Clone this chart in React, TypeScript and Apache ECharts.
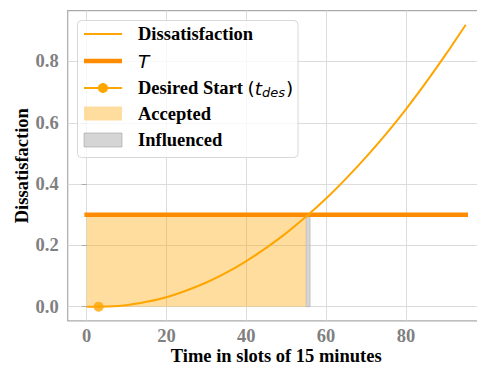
import React, { useEffect, useRef } from "react";
import * as echarts from "echarts";

// ---- data ----
const slots = [0, 3, 5, 10, 15, 20, 25, 30, 35, 40, 45, 50, 55, 60, 65, 70, 75, 80, 85, 90, 95];
const dissatisfaction = [0, 0, 0.0004, 0.005, 0.016, 0.031, 0.053, 0.079, 0.111, 0.149, 0.192, 0.24, 0.294, 0.353, 0.418, 0.488, 0.563, 0.644, 0.731, 0.823, 0.92];
const thresholdT = 0.3;
const thresholdSpan = [0, 95];
const desiredStart = [3, 0];
const acceptedRange = [0, 55];
const influencedRange = [55, 56];
const xTicks = [0, 20, 40, 60, 80];
const yTicks = [0, 0.2, 0.4, 0.6, 0.8];
const legendLabels = ["Dissatisfaction", "T", "Desired Start", "Accepted", "Influenced"];

const SERIF = "'Liberation Serif', 'Times New Roman', serif";
const SANS = "'DejaVu Sans', sans-serif";
const FS = 18.5;
const ORANGE = "#FFA500";
const DARKORANGE = "#FF8C00";
const ACCEPT_FILL = "rgba(255,165,0,0.38)";
const INFL_FILL = "rgba(190,190,190,0.65)";

export default function App() {
  const ref = useRef<HTMLDivElement>(null);
  useEffect(() => {
    if (!ref.current) return;
    const chart = echarts.init(ref.current, undefined, { renderer: "svg" });
    const lx = 84, lw = 38, tx = 138;
    const rows = [34, 61, 88, 113.5, 140];
    const textStyle = { fontFamily: SERIF, fontWeight: "bold", fontSize: FS, fill: "#000" };
    const option: any = {
      animation: false,
      grid: { left: 67.7, right: -7.7, top: 10.6, bottom: 46.2, show: true, borderColor: "#aaaaaa", borderWidth: 1.2, containLabel: false, outerBoundsMode: "none" },
      xAxis: {
        type: "value",
        min: -4.75,
        max: 99.75,
        name: "Time in slots of 15 minutes",
        nameLocation: "middle",
        nameGap: 35,
        nameMoveOverlap: false,
        nameTextStyle: { fontFamily: SERIF, fontWeight: "bold", fontSize: FS, color: "#000", lineHeight: 18, verticalAlign: "middle" },
        axisLine: { show: false },
        axisTick: { show: false, customValues: xTicks },
        axisLabel: { customValues: xTicks, fontFamily: SERIF, fontWeight: "bold", fontSize: FS, color: "#808080", margin: 6, formatter: (v: number) => String(Math.round(v)) },
        splitLine: { show: true, lineStyle: { color: "#dcdcdc", width: 1 } },
      },
      yAxis: {
        type: "value",
        min: -0.046,
        max: 0.966,
        name: "Dissatisfaction",
        nameLocation: "middle",
        nameRotate: 90,
        nameGap: 46,
        nameMoveOverlap: false,
        nameTextStyle: { fontFamily: SERIF, fontWeight: "bold", fontSize: FS, color: "#000", lineHeight: 18, verticalAlign: "middle" },
        axisLine: { show: false },
        axisTick: { show: true, length: 5, customValues: yTicks, lineStyle: { color: "#aaaaaa", width: 1 } },
        axisLabel: { customValues: yTicks, fontFamily: SERIF, fontWeight: "bold", fontSize: FS, color: "#808080", margin: 9, formatter: (v: number) => v.toFixed(1) },
        splitLine: { show: true, lineStyle: { color: "#dcdcdc", width: 1 } },
      },
      series: [
        {
          name: "areas",
          type: "line",
          data: [],
          z: 1,
          silent: true,
          markArea: {
            silent: true,
            data: [
              [
                { xAxis: acceptedRange[0], yAxis: 0, itemStyle: { color: ACCEPT_FILL } },
                { xAxis: acceptedRange[1], yAxis: thresholdT },
              ],
              [
                { xAxis: influencedRange[0], yAxis: 0, itemStyle: { color: INFL_FILL, borderColor: "rgba(170,170,170,0.6)", borderWidth: 0.8 } },
                { xAxis: influencedRange[1], yAxis: thresholdT },
              ],
            ],
          },
        },
        {
          name: legendLabels[1],
          type: "line",
          z: 3,
          data: thresholdSpan.map((x) => [x, thresholdT]),
          showSymbol: false,
          symbol: "none",
          lineStyle: { color: DARKORANGE, width: 4.5, cap: "square" },
        },
        {
          name: legendLabels[0],
          type: "line",
          z: 4,
          data: slots.map((x, i) => [x, dissatisfaction[i]]),
          showSymbol: false,
          symbol: "none",
          smooth: 0.3,
          lineStyle: { color: ORANGE, width: 2 },
        },
        {
          name: legendLabels[2],
          type: "scatter",
          z: 5,
          data: [desiredStart],
          symbol: "circle",
          symbolSize: 10,
          itemStyle: { color: ORANGE },
        },
      ],
      graphic: [
        {
          type: "rect",
          z: 100,
          shape: { x: 77.5, y: 20.5, width: 220.5, height: 137, r: 4 },
          style: { fill: "rgba(255,255,255,0.8)", stroke: "#d8d8d8", lineWidth: 1 },
        },
        { type: "line", z: 101, shape: { x1: lx, y1: rows[0], x2: lx + lw, y2: rows[0] }, style: { stroke: ORANGE, lineWidth: 2 } },
        { type: "line", z: 101, shape: { x1: lx, y1: rows[1], x2: lx + lw, y2: rows[1] }, style: { stroke: DARKORANGE, lineWidth: 4.5 } },
        { type: "line", z: 101, shape: { x1: lx, y1: rows[2], x2: lx + lw, y2: rows[2] }, style: { stroke: ORANGE, lineWidth: 2 } },
        { type: "circle", z: 102, shape: { cx: lx + lw / 2, cy: rows[2], r: 5 }, style: { fill: ORANGE } },
        { type: "rect", z: 101, shape: { x: lx, y: rows[3] - 7, width: lw, height: 14 }, style: { fill: ACCEPT_FILL } },
        { type: "rect", z: 101, shape: { x: lx, y: rows[4] - 7, width: lw, height: 14 }, style: { fill: INFL_FILL, stroke: "rgba(160,160,160,0.7)", lineWidth: 0.8 } },
        { type: "text", z: 103, x: tx, y: rows[0], style: { ...textStyle, text: legendLabels[0], verticalAlign: "middle" } },
        { type: "text", z: 103, x: tx, y: rows[1], style: { text: legendLabels[1], fontFamily: SANS, fontStyle: "italic", fontSize: FS, fill: "#000", verticalAlign: "middle" } },
        {
          type: "text",
          z: 103,
          x: tx,
          y: rows[2],
          style: {
            text: "{b|" + legendLabels[2] + " }{p|(}{i|t}{s|des}{p|)}",
            verticalAlign: "middle",
            rich: {
              b: { fontFamily: SERIF, fontWeight: "bold", fontSize: FS, fill: "#000", color: "#000", lineHeight: 22, verticalAlign: "middle" },
              p: { fontFamily: SANS, fontSize: FS, fill: "#000", color: "#000", lineHeight: 22, verticalAlign: "middle" },
              i: { fontFamily: SANS, fontStyle: "italic", fontSize: FS, fill: "#000", color: "#000", lineHeight: 22, verticalAlign: "middle" },
              s: { fontFamily: SANS, fontStyle: "italic", fontSize: 13, fill: "#000", color: "#000", lineHeight: 22, verticalAlign: "bottom", padding: [0, 1, 0, 0] },
            },
          },
        },
        { type: "text", z: 103, x: tx, y: rows[3], style: { ...textStyle, text: legendLabels[3], verticalAlign: "middle" } },
        { type: "text", z: 103, x: tx, y: rows[4], style: { ...textStyle, text: legendLabels[4], verticalAlign: "middle" } },
      ],
    };
    chart.setOption(option);
    return () => chart.dispose();
  }, []);
  return <div ref={ref} style={{ width: 477, height: 367, position: "absolute", left: 0, top: 0 }} />;
}
